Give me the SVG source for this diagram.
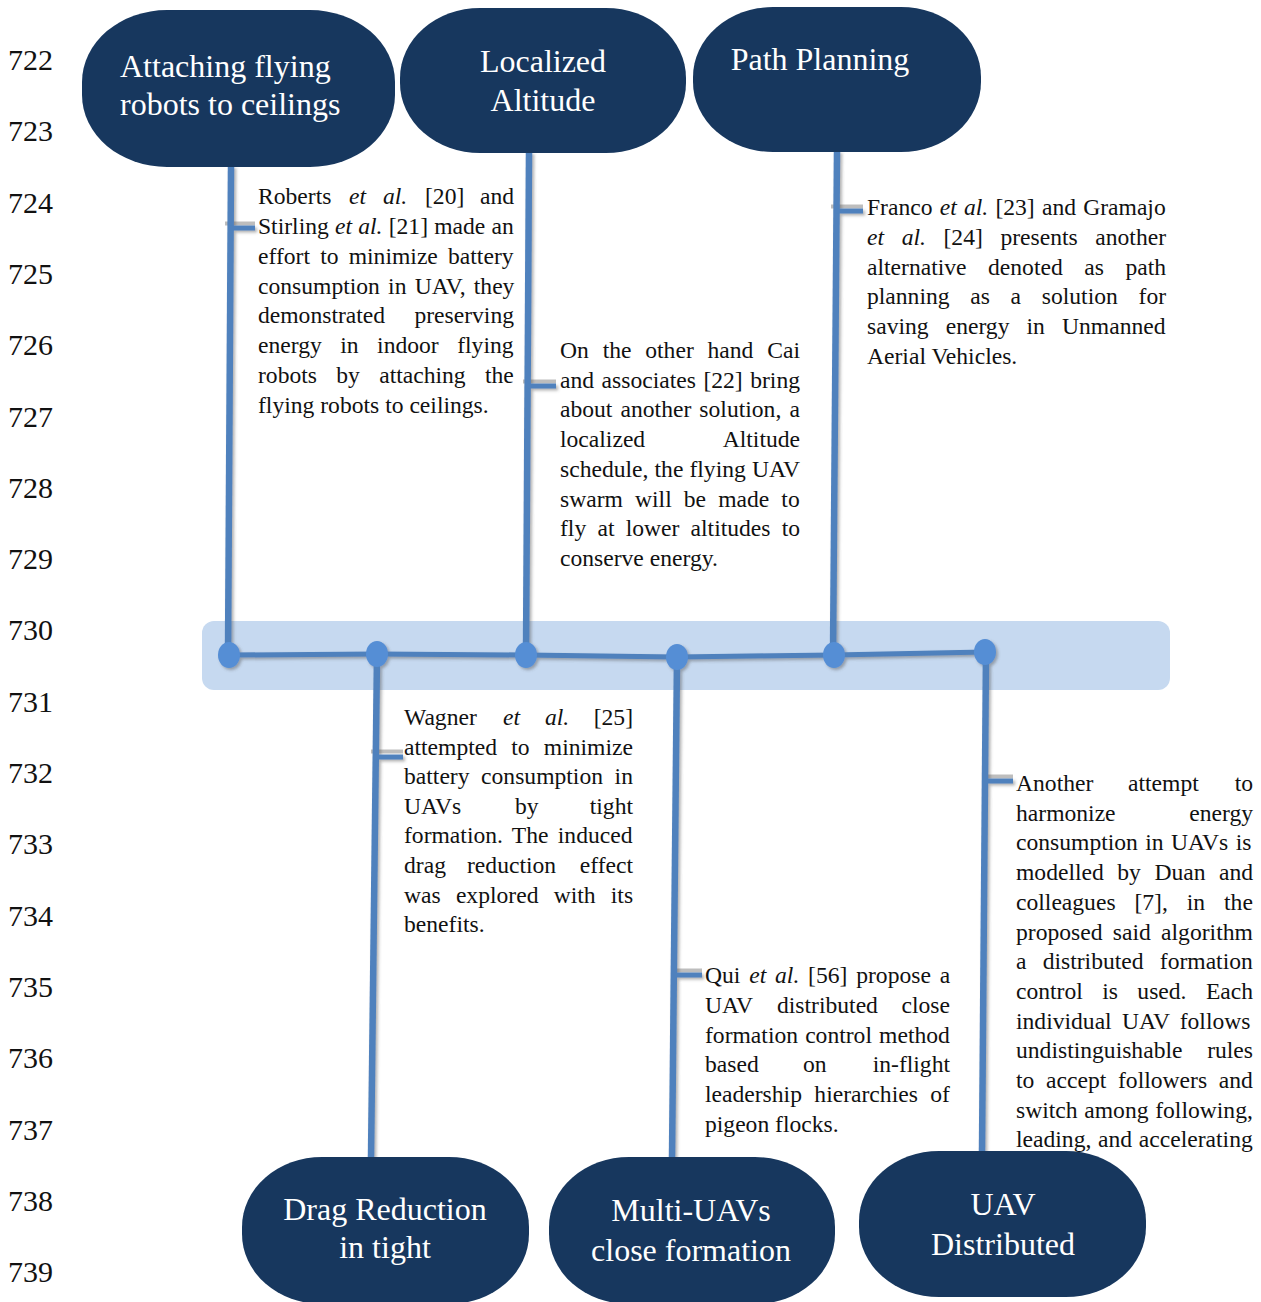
<svg xmlns="http://www.w3.org/2000/svg" width="1261" height="1302" viewBox="0 0 1261 1302">
  <defs>
    <filter id="shadow" x="-20%" y="-20%" width="140%" height="140%">
      <feDropShadow dx="2" dy="2" stdDeviation="1.5" flood-color="#555" flood-opacity="0.45"/>
    </filter>
    <style>
      .ln { font-family: "Liberation Serif", "Times New Roman", serif; font-size: 30px; fill: #111; }
      .node rect { fill: #17375e; }
      .node text { font-family: "Liberation Serif", "Times New Roman", serif; font-size: 32px; fill: #ffffff; }
      .body { font-family: "Liberation Serif", "Times New Roman", serif; font-size: 23.6px; fill: #111; }
      .it { font-style: italic; }
      .wire { stroke: #4f81bd; fill: none; stroke-linecap: butt; }
      .tick { stroke: #4f81bd; stroke-width: 5; }
      .tickshade { stroke: #bdbdbd; stroke-width: 4; }
      .dot { fill: #558ed5; }
    </style>
  </defs>
  <rect width="1261" height="1302" fill="#ffffff"/>

  <!-- line numbers -->
  <g id="line-numbers" class="ln">
    <text x="8" y="70">722</text>
    <text x="8" y="141.3">723</text>
    <text x="8" y="212.6">724</text>
    <text x="8" y="283.9">725</text>
    <text x="8" y="355.2">726</text>
    <text x="8" y="426.5">727</text>
    <text x="8" y="497.8">728</text>
    <text x="8" y="569.1">729</text>
    <text x="8" y="640.4">730</text>
    <text x="8" y="711.7">731</text>
    <text x="8" y="783">732</text>
    <text x="8" y="854.3">733</text>
    <text x="8" y="925.6">734</text>
    <text x="8" y="996.9">735</text>
    <text x="8" y="1068.2">736</text>
    <text x="8" y="1139.5">737</text>
    <text x="8" y="1210.8">738</text>
    <text x="8" y="1282.1">739</text>
  </g>

  <!-- timeline band -->
  <rect id="band" x="202" y="621" width="968" height="69" rx="12" fill="#c6d9f0"/>

  <!-- description texts (justified by word spacing) -->
  <g id="descriptions" class="body">
    <!-- ceilings -->
    <text y="204"><tspan x="258">Roberts</tspan><tspan x="349" class="it">et</tspan><tspan x="383" class="it">al.</tspan><tspan x="425">[20]</tspan></text>
    <text x="514" y="204" text-anchor="end">and</text>
    <text x="258" y="233.8" word-spacing="0.3">Stirling <tspan class="it">et al.</tspan> [21] made an</text>
    <text x="258" y="263.7" word-spacing="4.3">effort to minimize battery</text>
    <text x="258" y="293.5" word-spacing="2.3">consumption in UAV, they</text>
    <text x="258" y="323.4">demonstrated</text>
    <text x="514" y="323.4" text-anchor="end">preserving</text>
    <text x="258" y="353.2" word-spacing="12.6">energy in indoor flying</text>
    <text x="258" y="383.1" word-spacing="13.4">robots by attaching the</text>
    <text x="258" y="413">flying robots to ceilings.</text>

    <!-- altitude -->
    <text x="560" y="358" word-spacing="7.9">On the other hand Cai</text>
    <text x="560" y="387.7" word-spacing="1.6">and associates [22] bring</text>
    <text x="560" y="417.4" word-spacing="2.2">about another solution, a</text>
    <text x="560" y="447.1">localized</text>
    <text x="800" y="447.1" text-anchor="end">Altitude</text>
    <text x="560" y="476.8" word-spacing="0.2">schedule, the flying UAV</text>
    <text x="560" y="506.5" word-spacing="6.2">swarm will be made to</text>
    <text x="560" y="536.2" word-spacing="5.3">fly at lower altitudes to</text>
    <text x="560" y="565.9">conserve energy.</text>

    <!-- path planning -->
    <text x="867" y="215" word-spacing="1.3">Franco <tspan class="it">et al.</tspan> [23] and Gramajo</text>
    <text x="867" y="244.8" word-spacing="11.7"><tspan class="it">et al.</tspan> [24] presents another</text>
    <text x="867" y="274.6" word-spacing="15.6">alternative denoted as path</text>
    <text x="867" y="304.4" word-spacing="14.8">planning as a solution for</text>
    <text x="867" y="334.2" word-spacing="11.2">saving energy in Unmanned</text>
    <text x="867" y="364">Aerial Vehicles.</text>

    <!-- drag reduction -->
    <text y="725"><tspan x="404">Wagner</tspan><tspan x="503" class="it">et</tspan><tspan x="545" class="it">al.</tspan></text>
    <text x="633" y="725" text-anchor="end">[25]</text>
    <text x="404" y="754.6" word-spacing="8.3">attempted to minimize</text>
    <text x="404" y="784.2" word-spacing="5.7">battery consumption in</text>
    <text y="813.8"><tspan x="404">UAVs</tspan><tspan x="515">by</tspan></text>
    <text x="633" y="813.8" text-anchor="end">tight</text>
    <text x="404" y="843.4" word-spacing="3.4">formation. The induced</text>
    <text y="873"><tspan x="404">drag</tspan><tspan x="467">reduction</tspan></text>
    <text x="633" y="873" text-anchor="end">effect</text>
    <text x="404" y="902.6" word-spacing="9.3">was explored with its</text>
    <text x="404" y="932.2">benefits.</text>

    <!-- close formation -->
    <text x="705" y="983" word-spacing="2.9">Qui <tspan class="it">et al.</tspan> [56] propose a</text>
    <text y="1012.8"><tspan x="705">UAV</tspan><tspan x="777">distributed</tspan></text>
    <text x="950" y="1012.8" text-anchor="end">close</text>
    <text x="705" y="1042.6" word-spacing="1.2">formation control method</text>
    <text y="1072.4"><tspan x="705">based</tspan><tspan x="803">on</tspan></text>
    <text x="950" y="1072.4" text-anchor="end">in-flight</text>
    <text x="705" y="1102.2" word-spacing="6.5">leadership hierarchies of</text>
    <text x="705" y="1132">pigeon flocks.</text>

    <!-- distributed -->
    <text y="791"><tspan x="1016">Another</tspan><tspan x="1128">attempt</tspan></text>
    <text x="1253" y="791" text-anchor="end">to</text>
    <text x="1016" y="820.7">harmonize</text>
    <text x="1253" y="820.7" text-anchor="end">energy</text>
    <text x="1016" y="850.4" word-spacing="1.5">consumption in UAVs is</text>
    <text x="1016" y="880.1" word-spacing="7.6">modelled by Duan and</text>
    <text x="1016" y="909.8" word-spacing="13">colleagues [7], in the</text>
    <text x="1016" y="939.5" word-spacing="4.4">proposed said algorithm</text>
    <text x="1016" y="969.2" word-spacing="10.3">a distributed formation</text>
    <text x="1016" y="998.9" word-spacing="13.5">control is used. Each</text>
    <text x="1016" y="1028.6" word-spacing="4.3">individual UAV follows</text>
    <text x="1016" y="1058.3">undistinguishable</text>
    <text x="1253" y="1058.3" text-anchor="end">rules</text>
    <text x="1016" y="1088" word-spacing="5.8">to accept followers and</text>
    <text x="1016" y="1117.7" word-spacing="0.8">switch among following,</text>
    <text x="1016" y="1147.4" word-spacing="0.8">leading, and accelerating</text>
  </g>

  <!-- connectors -->
  <g id="connectors">
    <g class="ticks-shade">
      <line class="tickshade" x1="225" y1="223.5" x2="255" y2="223.5"/>
      <line class="tickshade" x1="523" y1="381.5" x2="556" y2="381.5"/>
      <line class="tickshade" x1="831" y1="206.5" x2="863" y2="206.5"/>
      <line class="tickshade" x1="371" y1="751.5" x2="403" y2="751.5"/>
      <line class="tickshade" x1="671" y1="970.5" x2="702" y2="970.5"/>
      <line class="tickshade" x1="982" y1="776.5" x2="1013" y2="776.5"/>
    </g>
    <g filter="url(#shadow)">
      <polyline class="wire" stroke-width="5" points="229,655 377,654 526,655 677,657 834,655 985,652"/>
      <line class="wire" stroke-width="6.5" x1="231" y1="166" x2="228" y2="655"/>
      <line class="wire" stroke-width="6.5" x1="529" y1="152" x2="526" y2="655"/>
      <line class="wire" stroke-width="6.5" x1="837" y1="151" x2="833" y2="655"/>
      <line class="wire" stroke-width="6.5" x1="377" y1="654" x2="371" y2="1158"/>
      <line class="wire" stroke-width="6.5" x1="677" y1="657" x2="672" y2="1158"/>
      <line class="wire" stroke-width="6.5" x1="986" y1="652" x2="982" y2="1152"/>
      <line class="tick" x1="230" y1="228" x2="255" y2="228"/>
      <line class="tick" x1="528" y1="386" x2="556" y2="386"/>
      <line class="tick" x1="836" y1="211" x2="863" y2="211"/>
      <line class="tick" x1="376" y1="757" x2="403" y2="757"/>
      <line class="tick" x1="676" y1="975" x2="702" y2="975"/>
      <line class="tick" x1="986" y1="781" x2="1013" y2="781"/>
      <ellipse class="dot" cx="229" cy="655" rx="11" ry="13"/>
      <ellipse class="dot" cx="377" cy="654" rx="11" ry="13"/>
      <ellipse class="dot" cx="526" cy="655" rx="11" ry="13"/>
      <ellipse class="dot" cx="677" cy="657" rx="11" ry="13"/>
      <ellipse class="dot" cx="834" cy="655" rx="11" ry="13"/>
      <ellipse class="dot" cx="985" cy="652" rx="11" ry="13"/>
    </g>
  </g>

  <!-- top nodes -->
  <g id="node-ceilings" class="node">
    <rect x="82" y="10" width="313" height="157" rx="85" ry="72"/>
    <text x="120" y="77">Attaching flying</text>
    <text x="120" y="115">robots to ceilings</text>
  </g>
  <g id="node-altitude" class="node">
    <rect x="400" y="8" width="286" height="145" rx="80" ry="70"/>
    <text x="543" y="72" text-anchor="middle">Localized</text>
    <text x="543" y="111" text-anchor="middle">Altitude</text>
  </g>
  <g id="node-path" class="node">
    <rect x="693" y="7" width="288" height="145" rx="80" ry="70"/>
    <text x="820" y="70" text-anchor="middle">Path Planning</text>
  </g>

  <!-- bottom nodes -->
  <g id="node-drag" class="node">
    <rect x="242" y="1157" width="287" height="147" rx="80" ry="70"/>
    <text x="385" y="1220" text-anchor="middle">Drag Reduction</text>
    <text x="385" y="1258" text-anchor="middle">in tight</text>
  </g>
  <g id="node-close" class="node">
    <rect x="549" y="1157" width="286" height="147" rx="80" ry="70"/>
    <text x="691" y="1221" text-anchor="middle">Multi-UAVs</text>
    <text x="691" y="1261" text-anchor="middle">close formation</text>
  </g>
  <g id="node-distributed" class="node">
    <rect x="859" y="1151" width="287" height="146" rx="80" ry="70"/>
    <text x="1003" y="1215" text-anchor="middle">UAV</text>
    <text x="1003" y="1255" text-anchor="middle">Distributed</text>
  </g>
</svg>
